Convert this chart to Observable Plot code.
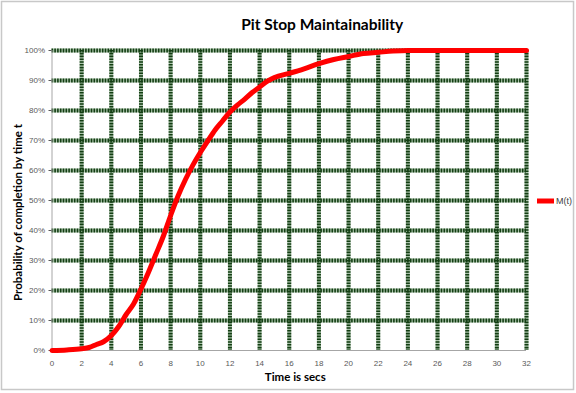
<!DOCTYPE html>
<html>
<head>
<meta charset="utf-8">
<script src="https://cdn.jsdelivr.net/npm/d3@7"></script>
<script src="https://cdn.jsdelivr.net/npm/@observablehq/plot@0.6"></script>
<style>
  html, body { margin: 0; padding: 0; background: #fff; }
  #chart { width: 576px; height: 393px; }
</style>
</head>
<body>
<div id="chart"></div>
<script>
// Data
const times = [0, 1, 2, 2.5, 3, 3.5, 4, 4.5, 5, 5.5, 6, 6.5, 7, 7.5, 8, 8.5, 9, 9.5, 10, 10.5, 11, 11.5, 12, 12.5, 13, 13.5, 14, 14.5, 15, 16, 17, 18, 19, 20, 21, 22, 23, 24, 26, 28, 30, 32];
const probs = [0, 0.002, 0.006, 0.01, 0.02, 0.03, 0.05, 0.08, 0.12, 0.155, 0.205, 0.26, 0.32, 0.38, 0.45, 0.515, 0.57, 0.618, 0.66, 0.698, 0.735, 0.765, 0.795, 0.818, 0.838, 0.86, 0.878, 0.897, 0.91, 0.924, 0.939, 0.956, 0.97, 0.98, 0.99, 0.994, 0.998, 1.0, 1.0, 1.0, 1.0, 1.0];
const xTicks = d3.range(0, 33, 2);
const yTicks = d3.range(0, 11).map(i => i / 10);
const seriesName = "M(t)";
const titleText = "Pit Stop Maintainability";
const xLabel = "Time is secs";
const yLabel = "Probability of completion by time t";

const data = times.map((t, i) => ({t, p: probs[i]}));
const gridColor = "#123d12";
const font = "Lato, 'Open Sans', sans-serif";

const plot = Plot.plot({
  width: 576,
  height: 393,
  marginLeft: 51.5,
  marginRight: 50,
  marginTop: 50,
  marginBottom: 43,
  style: {fontFamily: "'Liberation Sans', Arial, sans-serif", fontSize: "8px", color: "#595959", background: "#fff"},
  x: {domain: [0, 32]},
  y: {domain: [0, 1]},
  marks: [
    // light under-layer of the dotted grid
    Plot.ruleX(xTicks.filter(d => d > 0), {stroke: "#6f9a6f", strokeWidth: 4, strokeOpacity: 0.6}),
    Plot.ruleY(yTicks.filter(d => d > 0), {stroke: "#6f9a6f", strokeWidth: 4, strokeOpacity: 0.6}),
    Plot.ruleX(xTicks.filter(d => d > 0), {stroke: gridColor, strokeWidth: 4, strokeDasharray: "1.6,1.2"}),
    Plot.ruleY(yTicks.filter(d => d > 0), {stroke: gridColor, strokeWidth: 4, strokeDasharray: "1.6,1.2"}),
    Plot.ruleX([0], {stroke: "#a6a6a6", strokeWidth: 1}),
    Plot.ruleY([0], {stroke: "#a6a6a6", strokeWidth: 1}),
    Plot.axisX({ticks: xTicks, tickSize: 0, tickPadding: 10, label: null, tickFormat: d => d}),
    Plot.axisY({ticks: yTicks, tickSize: 3, tickPadding: 4, label: null, tickFormat: d3.format(".0%")}),
    Plot.line(data, {x: "t", y: "p", stroke: "#ff0000", strokeWidth: 5, curve: "monotone-x"}),
    Plot.text([titleText], {frameAnchor: "top", dy: -32, dx: 33, fontSize: 15.5, fontWeight: "bold", fill: "#000", fontFamily: font}),
    Plot.text([xLabel], {frameAnchor: "bottom", dy: 30, dx: 6, fontSize: 11.5, fontWeight: "bold", fill: "#000", fontFamily: font}),
    Plot.text([yLabel], {frameAnchor: "left", dx: -34, dy: 12, rotate: -90, textAnchor: "middle", fontSize: 11.5, fontWeight: "bold", fill: "#000", fontFamily: font})
  ]
});

document.getElementById("chart").appendChild(plot);

// border and legend
const svg = d3.select(plot);
svg.append("rect").attr("x", 1.5).attr("y", 1.5).attr("width", 572).attr("height", 388)
  .attr("fill", "none").attr("stroke", "#c8c8c8").attr("stroke-width", 1.5);
const lg = svg.append("g");
lg.append("line").attr("x1", 537).attr("x2", 554).attr("y1", 201).attr("y2", 201)
  .attr("stroke", "#ff0000").attr("stroke-width", 5);
lg.append("text").attr("x", 556).attr("y", 204).attr("font-size", 9).attr("fill", "#404040")
  .attr("text-anchor", "start")
  .attr("font-family", "'Liberation Sans', Arial, sans-serif").text(seriesName);
</script>
</body>
</html>
